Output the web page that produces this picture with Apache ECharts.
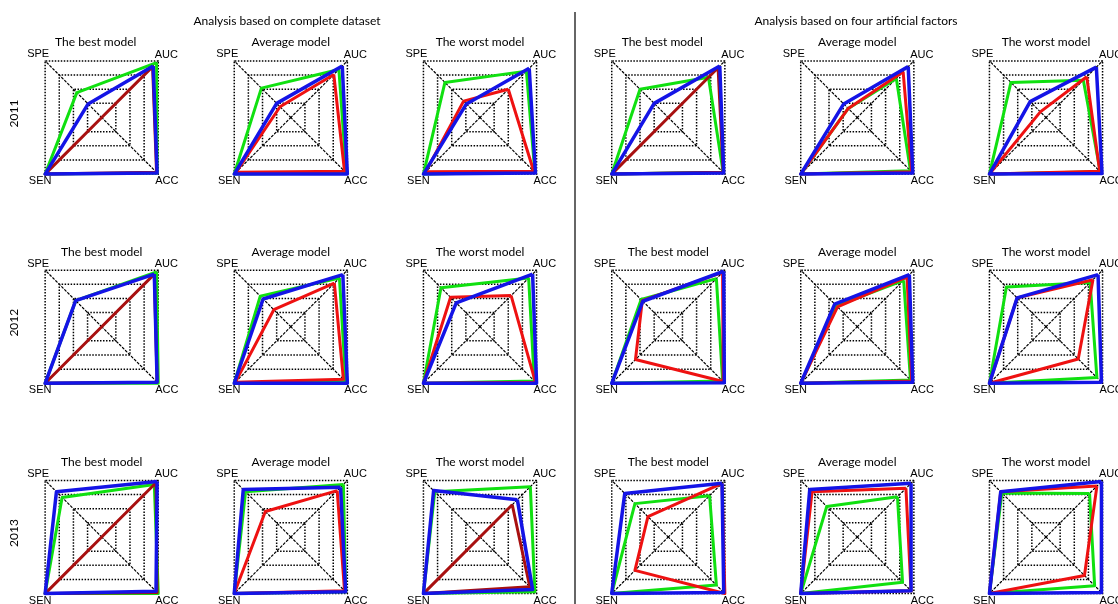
<!DOCTYPE html>
<html>
<head>
<meta charset="utf-8">
<script src="https://cdn.jsdelivr.net/npm/echarts@6/dist/echarts.min.js"></script>
<style>
html, body { margin: 0; padding: 0; background: #fff; }
#chart { width: 1118px; height: 604px; }
</style>
</head>
<body>
<div id="chart"></div>
<script>
const indicators = ['AUC', 'SPE', 'SEN', 'ACC'];
const years = ['2011', '2012', '2013'];
const models = ['The best model', 'Average model', 'The worst model'];
const panels = ['Analysis based on complete dataset', 'Analysis based on four artificial factors'];

// per year: best, average, worst (complete dataset) then best, average, worst (four factors)
// each entry in indicator order: AUC, SPE, SEN, ACC
const green2011 = [[0.97, 0.44, 1, 0.98], [0.85, 0.52, 1, 0.98], [0.82, 0.62, 1, 0.97], [0.71, 0.50, 1, 0.97], [0.69, 0.16, 1, 0.94], [0.66, 0.62, 1, 0.96]];
const red2011   = [[0.90, 0, 1, 0.97], [0.76, 0.19, 0.97, 0.95], [0.50, 0.29, 0.96, 0.95], [0.88, 0, 1, 0.97], [0.81, 0.16, 1, 0.96], [0.72, 0.10, 1, 0.95]];
const blue2011  = [[0.91, 0.24, 1, 0.98], [0.91, 0.25, 1, 1], [0.87, 0.24, 1, 0.98], [0.91, 0.25, 1, 0.98], [0.90, 0.24, 1, 0.98], [0.89, 0.28, 1, 0.99]];

const green2012 = [[0.97, 0.46, 1, 1], [0.86, 0.54, 1, 0.97], [0.86, 0.69, 1, 0.96], [0.85, 0.48, 1, 0.96], [0.82, 0.37, 1, 0.94], [0.78, 0.70, 1, 0.90]];
const red2012   = [[0.93, 0, 1, 0.98], [0.77, 0.30, 0.98, 0.93], [0.55, 0.52, 1, 0.98], [0.96, 0.46, 0.58, 0.97], [0.88, 0.35, 1, 0.96], [0.83, 0.51, 1, 0.57]];
const blue2012  = [[0.93, 0.46, 1, 0.98], [0.92, 0.49, 1, 1], [0.93, 0.42, 1, 1], [0.98, 0.45, 1, 0.99], [0.92, 0.40, 1, 0.98], [0.92, 0.51, 1, 0.98]];

const green2013 = [[0.93, 0.70, 1, 1], [0.93, 0.80, 1, 0.97], [0.89, 0.80, 1, 0.97], [0.73, 0.59, 1, 0.85], [0.71, 0.54, 1, 0.80], [0.77, 0.78, 1, 0.86]];
const red2013   = [[0.96, 0, 1, 0.98], [0.82, 0.45, 1, 0.95], [0.57, 0, 1, 0.88], [0.95, 0.36, 0.59, 1], [0.86, 0.80, 1, 0.95], [0.90, 0.80, 1, 0.68]];
const blue2013  = [[0.98, 0.80, 1, 0.96], [0.88, 0.84, 1, 0.97], [0.66, 0.82, 1, 0.93], [0.95, 0.77, 1, 0.98], [0.95, 0.84, 1, 0.95], [0.98, 0.80, 1, 0.98]];

const greenRows = [green2011, green2012, green2013];
const redRows = [red2011, red2012, red2013];
const blueRows = [blue2011, blue2012, blue2013];

// layout
const colX = [101.7, 290.8, 480, 668.3, 857.3, 1046];
const rowY = [117.5, 326.7, 537];
const radius = 80;
const half = radius / Math.SQRT2;
const titleFont = '12px Lato, "Open Sans", sans-serif';
const nameFont = '11px "Liberation Sans", Arial, sans-serif';
// label offsets from each corner, same order as indicators
const nameOffset = [[half + 8, -half - 6], [-half - 7, -half - 6.5], [-half - 5, half + 7], [half + 8.5, half + 7]];

const chart = echarts.init(document.getElementById('chart'));

const radars = [];
const series = [];
const graphics = [];

rowY.forEach((cy, r) => {
  colX.forEach((cx, c) => {
    const idx = radars.length;
    radars.push({
      center: [cx, cy],
      radius: radius,
      startAngle: 45,
      shape: 'polygon',
      splitNumber: 4,
      indicator: indicators.map(name => ({ name: name, min: 0, max: 1 })),
      axisName: { show: false },
      axisLine: { lineStyle: { color: '#000', type: [2, 2.2], width: 1.2 } },
      splitLine: { lineStyle: { color: '#000', type: 'dotted', width: 1.5 } },
      splitArea: { show: false },
      axisTick: { show: false },
      axisLabel: { show: false }
    });

    const red = redRows[r][c];
    const lines = [
      { name: 'green', value: greenRows[r][c], color: '#10e010', width: 3 },
      // the red line through the centre looks darker in the original
      { name: 'red', value: red, color: red[1] === 0 ? '#a81010' : '#ee1111', width: 3 },
      { name: 'blue', value: blueRows[r][c], color: '#1414e6', width: 3.5 }
    ];
    lines.forEach(l => {
      series.push({
        type: 'radar',
        radarIndex: idx,
        symbol: 'none',
        silent: true,
        lineStyle: { color: l.color, width: l.width },
        data: [{ name: l.name, value: l.value }]
      });
    });

    indicators.forEach((name, i) => {
      graphics.push({
        type: 'text',
        x: cx + nameOffset[i][0],
        y: cy + nameOffset[i][1],
        style: { text: name, font: nameFont, fill: '#000', align: 'center', verticalAlign: 'middle' }
      });
    });

    graphics.push({
      type: 'text',
      x: cx - (r === 0 && c % 3 === 0 ? 6 : 0),
      y: cy - 75,
      style: { text: models[c % 3], font: titleFont, fill: '#000', align: 'center', verticalAlign: 'middle' }
    });
  });

  graphics.push({
    type: 'text',
    x: 14,
    y: cy - 4,
    rotation: Math.PI / 2,
    style: { text: years[r], font: titleFont, fill: '#000', align: 'center', verticalAlign: 'middle' }
  });
});

panels.forEach((p, i) => {
  graphics.push({
    type: 'text',
    x: i === 0 ? 287 : 856,
    y: 21,
    style: { text: p, font: titleFont, fill: '#000', align: 'center', verticalAlign: 'middle' }
  });
});

graphics.push({
  type: 'line',
  shape: { x1: 575, y1: 12, x2: 575, y2: 604 },
  style: { stroke: '#333', lineWidth: 1.5 }
});

chart.setOption({
  animation: false,
  radar: radars,
  series: series,
  graphic: graphics
});

window.addEventListener('resize', () => chart.resize());
</script>
</body>
</html>
